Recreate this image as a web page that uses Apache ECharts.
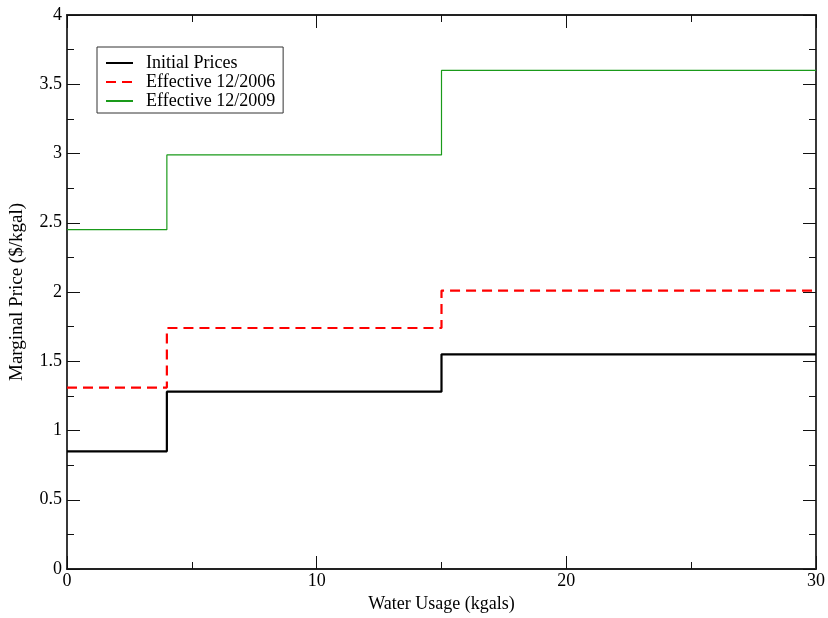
<!DOCTYPE html>
<html><head><meta charset="utf-8">
<script src="https://cdn.jsdelivr.net/npm/echarts@6/dist/echarts.min.js"></script>
<style>html,body{margin:0;padding:0;background:#fff}#c{width:828px;height:618px}</style>
</head><body><div id="c"></div>
<script>
const breaks = [0, 4, 15, 30];
const initialPrices = [0.85, 1.28, 1.55, 1.55];
const eff2006 = [1.31, 1.74, 2.01, 2.01];
const eff2009 = [2.45, 2.99, 3.60, 3.60];
const seriesNames = ['Initial Prices', 'Effective 12/2006', 'Effective 12/2009'];
const xTicks = [0, 10, 20, 30];
const yTicks = [0, 0.5, 1, 1.5, 2, 2.5, 3, 3.5, 4];

const font = 'Liberation Serif';
const chart = echarts.init(document.getElementById('c'), null, {renderer: 'canvas'});
const pair = arr => breaks.map((x, i) => [x, arr[i]]);
const axisCommon = {
  axisLine: {onZero: false, lineStyle: {color: '#222', width: 1.8}},
  axisTick: {inside: true, length: 13, lineStyle: {color: '#111', width: 1}},
  minorTick: {show: true, splitNumber: 2, length: 7, lineStyle: {color: '#111', width: 1}},
  splitLine: {show: false}
};
chart.setOption({
  animation: false,
  backgroundColor: '#fff',
  grid: {left: 65, right: 12, top: 15, bottom: 48},
  legend: {
    orient: 'vertical', left: 97, top: 47,
    data: seriesNames,
    borderColor: '#333', borderWidth: 1, borderRadius: 0,
    padding: [7, 8, 3, 8],
    itemWidth: 27, itemHeight: 14, itemGap: 1,
    itemStyle: {opacity: 0},
    textStyle: {fontFamily: font, fontSize: 18, lineHeight: 18, color: '#000', padding: [0, 0, 0, 8]}
  },
  xAxis: [
    Object.assign({type: 'value', min: 0, max: 30, interval: 10, position: 'bottom',
      name: 'Water Usage (kgals)', nameLocation: 'middle', nameGap: 26,
      nameTextStyle: {fontFamily: font, fontSize: 18, color: '#000'},
      axisLabel: {fontFamily: font, fontSize: 18, color: '#000', margin: 3,
        formatter: v => xTicks.includes(v) ? String(v) : ''}}, axisCommon),
    Object.assign({type: 'value', min: 0, max: 30, interval: 10, position: 'top',
      axisLabel: {show: false}}, axisCommon)
  ],
  yAxis: [
    Object.assign({type: 'value', min: 0, max: 4, interval: 0.5, position: 'left',
      name: 'Marginal Price ($/kgal)', nameLocation: 'middle', nameGap: 40,
      nameTextStyle: {fontFamily: font, fontSize: 19, color: '#000'},
      axisLabel: {fontFamily: font, fontSize: 18, color: '#000', margin: 5,
        formatter: v => yTicks.includes(v) ? String(v) : ''}}, axisCommon),
    Object.assign({type: 'value', min: 0, max: 4, interval: 0.5, position: 'right',
      axisLabel: {show: false}}, axisCommon)
  ],
  series: [
    {name: seriesNames[0], type: 'line', step: 'end', symbol: 'none', data: pair(initialPrices),
      lineStyle: {color: '#000', width: 2.2}, itemStyle: {color: '#000'}},
    {name: seriesNames[1], type: 'line', step: 'end', symbol: 'none', data: pair(eff2006),
      lineStyle: {color: '#ff0000', width: 2.2, type: [10, 6]}, itemStyle: {color: '#ff0000'}},
    {name: seriesNames[2], type: 'line', step: 'end', symbol: 'none', data: pair(eff2009),
      lineStyle: {color: '#1a9a1a', width: 1.2}, itemStyle: {color: '#1a9a1a'}}
  ]
});
</script></body></html>
